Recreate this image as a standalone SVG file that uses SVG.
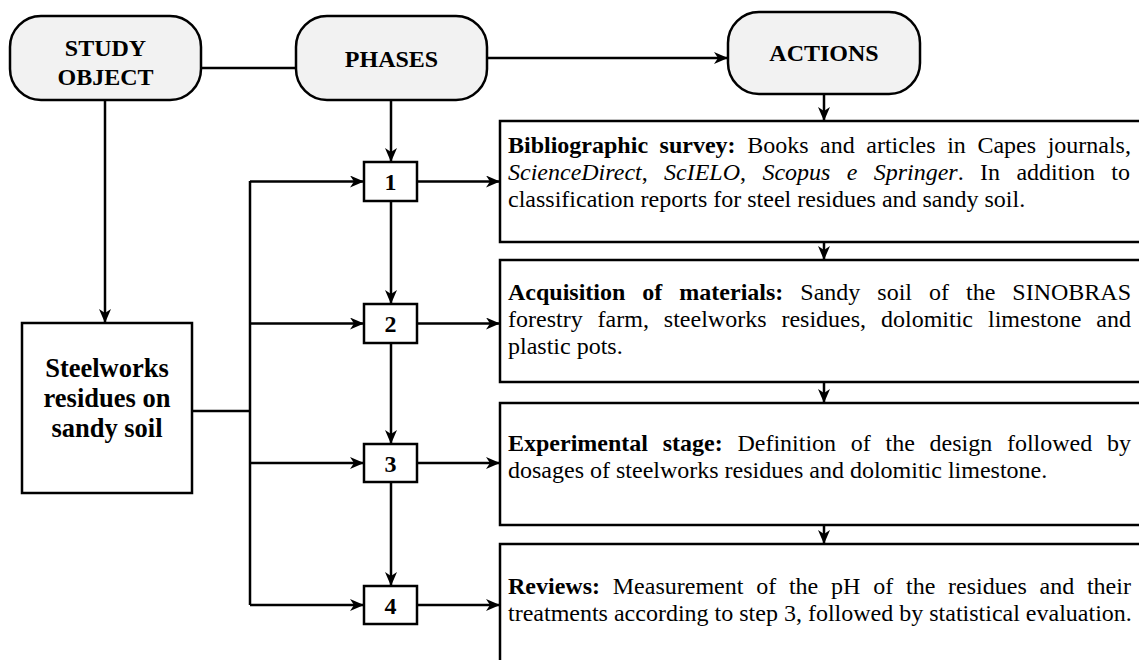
<svg xmlns="http://www.w3.org/2000/svg" width="1139" height="660" viewBox="0 0 1139 660">
<style>
.rb{fill:#f2f2f2;stroke:#000;stroke-width:2.5}
.bx{fill:#fff;stroke:#000;stroke-width:2.5}
.ln{fill:none;stroke:#000;stroke-width:2.5}
.hd{font-family:"Liberation Serif","Times New Roman",serif;font-weight:bold;font-size:24px;text-anchor:middle;fill:#000}
.sw{font-family:"Liberation Serif","Times New Roman",serif;font-weight:bold;font-size:26.5px;text-anchor:middle;fill:#000}
.t{font-family:"Liberation Serif","Times New Roman",serif;font-size:24px;fill:#000}
.b{font-weight:bold}
.i{font-style:italic}
</style>
<defs>
<marker id="arr" markerWidth="14" markerHeight="12" refX="14" refY="6" orient="auto" markerUnits="userSpaceOnUse">
<path d="M0,0 L14,6 L0,12 L4,6 Z" fill="#000"/>
</marker>
</defs>
<rect width="1139" height="660" fill="#fff"/>
<g id="connectors">
<line class="ln" x1="201" y1="68" x2="296" y2="68"/>
<line class="ln" x1="487" y1="58" x2="728" y2="58" marker-end="url(#arr)"/>
<line class="ln" x1="105" y1="100" x2="105" y2="323" marker-end="url(#arr)"/>
<line class="ln" x1="391" y1="100" x2="391" y2="162" marker-end="url(#arr)"/>
<line class="ln" x1="391" y1="201" x2="391" y2="304" marker-end="url(#arr)"/>
<line class="ln" x1="391" y1="343" x2="391" y2="444" marker-end="url(#arr)"/>
<line class="ln" x1="391" y1="482" x2="391" y2="586" marker-end="url(#arr)"/>
<line class="ln" x1="192" y1="411" x2="250" y2="411"/>
<line class="ln" x1="250" y1="181" x2="250" y2="605"/>
<line class="ln" x1="250" y1="181.5" x2="364" y2="181.5" marker-end="url(#arr)"/>
<line class="ln" x1="250" y1="323.5" x2="364" y2="323.5" marker-end="url(#arr)"/>
<line class="ln" x1="250" y1="463" x2="364" y2="463" marker-end="url(#arr)"/>
<line class="ln" x1="250" y1="605" x2="364" y2="605" marker-end="url(#arr)"/>
<line class="ln" x1="417" y1="181.5" x2="500" y2="181.5" marker-end="url(#arr)"/>
<line class="ln" x1="417" y1="323.5" x2="500" y2="323.5" marker-end="url(#arr)"/>
<line class="ln" x1="417" y1="463" x2="500" y2="463" marker-end="url(#arr)"/>
<line class="ln" x1="417" y1="605" x2="500" y2="605" marker-end="url(#arr)"/>
<line class="ln" x1="824" y1="94" x2="824" y2="121" marker-end="url(#arr)"/>
<line class="ln" x1="824" y1="242" x2="824" y2="260" marker-end="url(#arr)"/>
<line class="ln" x1="824" y1="382" x2="824" y2="403" marker-end="url(#arr)"/>
<line class="ln" x1="824" y1="525" x2="824" y2="544" marker-end="url(#arr)"/>
</g>
<g id="study-object">
<rect class="rb" x="10" y="16" width="191" height="84" rx="31"/>
<text class="hd" x="105.5" y="56">STUDY</text>
<text class="hd" x="105.5" y="85">OBJECT</text>
</g>
<g id="phases">
<rect class="rb" x="296" y="16" width="191" height="84" rx="31"/>
<text class="hd" x="391.5" y="67">PHASES</text>
</g>
<g id="actions">
<rect class="rb" x="728" y="12" width="192" height="82" rx="31"/>
<text class="hd" x="824" y="61">ACTIONS</text>
</g>
<g id="steelworks">
<rect class="bx" x="22" y="323" width="170" height="170"/>
<text class="sw" x="107" y="377">Steelworks</text>
<text class="sw" x="107" y="407">residues on</text>
<text class="sw" x="107" y="437">sandy soil</text>
</g>
<g id="phase-1">
<rect class="bx" x="364" y="162" width="53" height="39"/>
<text class="hd" x="390.5" y="190">1</text>
</g>
<g id="phase-2">
<rect class="bx" x="364" y="304" width="53" height="39"/>
<text class="hd" x="390.5" y="332">2</text>
</g>
<g id="phase-3">
<rect class="bx" x="364" y="444" width="53" height="38"/>
<text class="hd" x="390.5" y="471.5">3</text>
</g>
<g id="phase-4">
<rect class="bx" x="364" y="586" width="53" height="38"/>
<text class="hd" x="390.5" y="613.5">4</text>
</g>
<g id="action-1">
<rect class="bx" x="500" y="121" width="660" height="121"/>
<text class="t" x="508" y="153" style="word-spacing:5.57px"><tspan class="b">Bibliographic survey:</tspan> Books and articles in Capes journals,</text>
<text class="t" x="508" y="180" style="word-spacing:10.34px"><tspan class="i">ScienceDirect</tspan>, <tspan class="i">ScIELO</tspan>, <tspan class="i">Scopus e Springer</tspan>. In addition to</text>
<text class="t" x="508" y="207">classification reports for steel residues and sandy soil.</text>
</g>
<g id="action-2">
<rect class="bx" x="500" y="260" width="660" height="122"/>
<text class="t" x="508" y="300" style="word-spacing:11px"><tspan class="b">Acquisition of materials:</tspan> Sandy soil of the SINOBRAS</text>
<text class="t" x="508" y="327" style="word-spacing:8.95px">forestry farm, steelworks residues, dolomitic limestone and</text>
<text class="t" x="508" y="354">plastic pots.</text>
</g>
<g id="action-3">
<rect class="bx" x="500" y="403" width="660" height="122"/>
<text class="t" x="508" y="451" style="word-spacing:8.73px"><tspan class="b">Experimental stage:</tspan> Definition of the design followed by</text>
<text class="t" x="508" y="478">dosages of steelworks residues and dolomitic limestone.</text>
</g>
<g id="action-4">
<rect class="bx" x="500" y="544" width="660" height="130"/>
<text class="t" x="508" y="594" style="word-spacing:6.79px"><tspan class="b">Reviews:</tspan> Measurement of the pH of the residues and their</text>
<text class="t" x="508" y="621">treatments according to step 3, followed by statistical evaluation.</text>
</g>
</svg>
